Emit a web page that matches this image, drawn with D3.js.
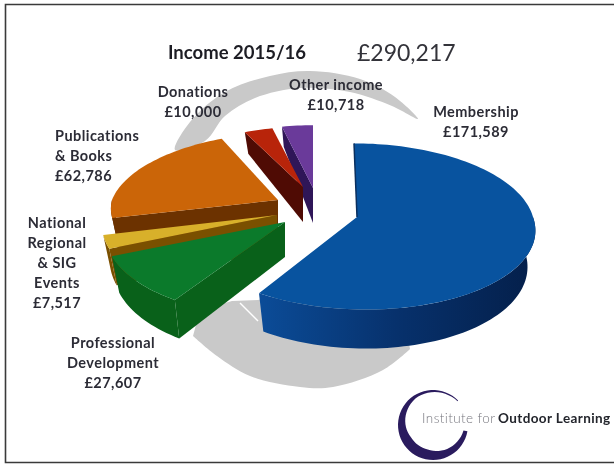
<!DOCTYPE html>
<html>
<head>
    <meta charset="utf-8">
    <title>Income 2015/16</title>
    <script src="https://cdn.jsdelivr.net/npm/d3@7"></script>
    <style>
        html, body { margin: 0; padding: 0; background: #fff; overflow: hidden; }
        svg { display: block; filter: blur(0.45px); }
        text { font-family: Lato, "Noto Sans", sans-serif; }
    </style>
</head>
<body>
    <script type="text/javascript">
        ////////////////////////////////
        /* DATA */
        ///////////////////////////////
        var categories = ["Membership", "Professional Development", "National Regional & SIG Events", "Publications & Books", "Donations", "Other income"];
        var incomeValues = [171589, 27607, 7517, 62786, 10000, 10718];
        var labelLines = [
            ["Membership"],
            ["Professional", "Development"],
            ["National", "Regional", "& SIG", "Events"],
            ["Publications", "& Books"],
            ["Donations"],
            ["Other income"]
        ];
        var topColors = ["#08539f", "#0b7a2b", "#d8b02a", "#cb6508", "#b8240a", "#6a3a9a"];
        var sideColors = ["#0a3a78", "#09611a", "#7a5000", "#6c3200", "#4f0b04", "#2f1658"];
        var total = d3.sum(incomeValues);
        var money = function(v){ return "£" + d3.format(",")(v); };

        ////////////////////////////////
        /* LAYOUT */
        ///////////////////////////////
        var w = 614;
        var h = 466;
        // each exploded slice gets its own tip and ellipse, they don't share one centre in the picture
        // skewF / skewB lean the front / back half of the rim sideways
        var sliceLayout = [
            {tx: 357, ty: 217, rx: 176, ry: 82, skewF: -9, skewB: -3},
            {tx: 285, ty: 222, rx: 178, ry: 84, skewF: 4, skewB: 0},
            {tx: 277, ty: 215, rx: 174, ry: 83, skewF: 0, skewB: 0},
            {tx: 278, ty: 200, rx: 166, ry: 75, skewF: 0, skewB: 10},
            {tx: 303, ty: 187, rx: 148, ry: 67, skewF: 0, skewB: 0},
            {tx: 313, ty: 188, rx: 150, ry: 70, skewF: 0, skewB: 0}
        ];
        var labelLayout = [
            {x: 476, y: 117, anchor: "middle"},
            {x: 113, y: 348, anchor: "middle"},
            {x: 57, y: 228, anchor: "middle"},
            {x: 55, y: 141, anchor: "start"},
            {x: 193, y: 97, anchor: "middle"},
            {x: 336, y: 90, anchor: "middle"}
        ];
        var persp = 0.114;
        var drawOrder = [5, 4, 3, 2, 1, 0]; //back slices first, blue last

        var canvas = d3.select("body")
            .append("svg")
            .attr("width", w)
            .attr("height", h);

        //frame
        canvas.append("path")
            .attr("d", "M614,4.5H5.5V462.5H614")
            .attr("fill", "none")
            .attr("stroke", "#3a3a3a")
            .attr("stroke-width", 1.6);

        //gradient for the blue wall, it gets darker to the right
        var grad = canvas.append("defs").append("linearGradient")
            .attr("id", "blueWall")
            .attr("x1", "0%").attr("x2", "100%").attr("y1", "0%").attr("y2", "0%");
        grad.append("stop").attr("offset", "0%").attr("stop-color", "#0b4c98");
        grad.append("stop").attr("offset", "50%").attr("stop-color", "#07316c");
        grad.append("stop").attr("offset", "100%").attr("stop-color", "#041f4a");

        ////////////////////////////////
        /* GREY SWOOSH BEHIND THE PIE */
        ///////////////////////////////
        var closedCurve = d3.line().curve(d3.curveCatmullRomClosed.alpha(0.5));
        var openCurve = d3.line().curve(d3.curveCatmullRom.alpha(0.5));
        var swooshTop = [[175, 150], [190, 122], [225, 92], [270, 76], [310, 71], [360, 79], [395, 97], [418, 119],
                         [392, 106], [350, 92], [300, 88], [255, 98], [225, 116], [205, 141]];
        //outer edge is a curve, the rest is straight and mostly hidden under the slices
        var swooshBottomEdge = [[193, 336], [217, 356], [250, 376], [300, 387], [333, 387], [383, 370], [410, 349]];
        var swooshBottomHidden = [[400, 300], [300, 290], [258, 300], [232, 301], [200, 310]];
        canvas.append("path")
            .attr("class", "swoosh")
            .attr("d", closedCurve(swooshTop))
            .attr("fill", "#c9c9c9");
        canvas.append("path")
            .attr("class", "swoosh")
            .attr("d", openCurve(swooshBottomEdge) + "L" + swooshBottomHidden.join("L") + "Z")
            .attr("fill", "#c9c9c9");
        canvas.append("line")
            .attr("x1", 240).attr("y1", 303).attr("x2", 258).attr("y2", 321)
            .attr("stroke", "#fff").attr("stroke-width", 1.5);

        ////////////////////////////////
        /* 3D PIE */
        ///////////////////////////////
        var arcs = d3.pie().sort(null).value(function(d){ return d; })(incomeValues);

        //a point on the disc (angle clockwise from 12 o'clock, radius 0..1), dropped "down" (0..1) below the top
        function project(s, angle, r, down){
            var X = Math.sin(angle) * r;
            var Y = Math.cos(angle) * r;
            var f = 1 / (1 + persp * Y);
            var lean = Y < 0 ? s.skewF * Y : s.skewB * Y;
            //bottom rim is pulled in a bit sideways
            return [s.tx + X * s.rx * f + lean - down * X * 8, s.ty - Y * s.ry * f + down * wallDepth(Y)];
        }
        //walls look shorter at the back
        function wallDepth(Y){
            return Y > 0 ? 35 - 15 * Y : 35 - 4 * Y;
        }
        function arcPoints(s, a0, a1, down){
            var n = Math.max(2, Math.ceil((a1 - a0) / 0.03));
            return d3.range(n + 1).map(function(i){
                return project(s, a0 + (a1 - a0) * i / n, 1, down);
            });
        }
        var polygon = d3.line();

        function drawSlice(i){
            var s = sliceLayout[i];
            var a0 = arcs[i].startAngle;
            var a1 = arcs[i].endAngle;
            var g = canvas.append("g").attr("class", "slice");
            var wallFill = i == 0 ? "url(#blueWall)" : sideColors[i];

            //cut face on the start side, only faces us on the left half
            if (Math.sin(a0) < 0) {
                g.append("path")
                    .attr("d", polygon([project(s, 0, 0, 0), project(s, a0, 1, 0), project(s, a0, 1, 1), project(s, 0, 0, 1)]) + "Z")
                    .attr("fill", sideColors[i]);
            }
            //outer wall, front half of the rim only
            var wa0 = Math.max(a0, Math.PI / 2);
            var wa1 = Math.min(a1, Math.PI * 1.5);
            if (wa1 > wa0) {
                var wall = arcPoints(s, wa0, wa1, 0).concat(arcPoints(s, wa0, wa1, 1).reverse());
                g.append("path")
                    .attr("d", polygon(wall) + "Z")
                    .attr("fill", wallFill);
            }
            //top
            var top = [project(s, 0, 0, 0)].concat(arcPoints(s, a0, a1, 0));
            g.append("path")
                .attr("d", polygon(top) + "Z")
                .attr("fill", topColors[i]);
            //dark edge where the cut face is seen exactly side on
            if (a0 == 0) {
                g.append("path")
                    .attr("d", polygon([project(s, 0, 0, 0), project(s, 0, 1, 0)]))
                    .attr("stroke", "#0a2f5e")
                    .attr("stroke-width", 1.5);
            }
        }
        drawOrder.forEach(drawSlice);

        ////////////////////////////////
        /* TEXT */
        ///////////////////////////////
        canvas.append("text")
            .text("Income 2015/16")
            .attr("x", 168).attr("y", 59)
            .attr("font-size", "18.5px").attr("font-weight", 700).attr("fill", "#1d1d24");
        canvas.append("text")
            .text(money(total))
            .attr("x", 357).attr("y", 61)
            .attr("font-size", "23px").attr("fill", "#33333a");

        var lineGap = 20;
        var labels = canvas.selectAll("text.label")
            .data(categories)
            .enter()
            .append("text")
            .attr("class", "label")
            .attr("font-size", "14.5px")
            .attr("letter-spacing", "0.45px")
            .attr("font-weight", 700)
            .attr("fill", "#2c2c36")
            .attr("text-anchor", function(d, i){ return labelLayout[i].anchor; });
        labels.each(function(d, i){
            var lines = labelLines[i].concat([money(incomeValues[i])]);
            d3.select(this).selectAll("tspan")
                .data(lines)
                .enter()
                .append("tspan")
                .attr("x", labelLayout[i].x)
                .attr("y", function(t, j){ return labelLayout[i].y + j * lineGap; })
                .text(function(t){ return t; });
        });

        ////////////////////////////////
        /* LOGO */
        ///////////////////////////////
        var lc = [433, 425];
        var logoSteps = d3.range(0, 1.001, 0.02);
        var startA = 0.8;   //top right, thin end
        var sweep = -5.33;  //round the left to lower right
        //crescent thickness along the stroke: hairline, thick at lower left, blunt end
        var logoThick = d3.scaleLinear().domain([0, 0.25, 0.55, 0.7, 1]).range([0.8, 3, 10, 10, 4]);
        function logoAt(t, r){
            var a = startA + sweep * t;
            return [lc[0] + r * Math.sin(a), lc[1] - r * Math.cos(a)];
        }
        var outer = logoSteps.map(function(t){ return logoAt(t, 35); });
        var inner = logoSteps.map(function(t){ return logoAt(t, 35 - logoThick(t)); }).reverse();
        canvas.append("path")
            .attr("d", polygon(outer.concat(inner)) + "Z")
            .attr("fill", "#2a1b5e");

        var logoText = canvas.append("text")
            .attr("y", 423)
            .attr("font-size", "13.5px")
            .attr("letter-spacing", "0.4px");
        logoText.append("tspan").text("Institute for").attr("x", 422).attr("fill", "#77777f").attr("font-weight", 300);
        logoText.append("tspan").text("Outdoor Learning").attr("x", 498).attr("fill", "#23252c").attr("font-weight", 700);
    </script>
</body>
</html>
